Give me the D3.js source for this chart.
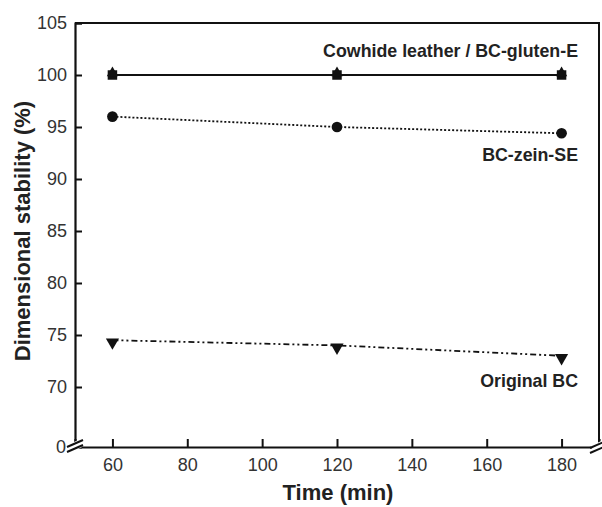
<!DOCTYPE html>
<html>
<head>
<meta charset="utf-8">
<script src="https://cdn.jsdelivr.net/npm/d3@7"></script>
<style>
  html, body { margin: 0; padding: 0; background: #fff; }
  svg { display: block; font-family: "Liberation Sans", Arial, sans-serif; }
</style>
</head>
<body>
<svg id="chart" width="602" height="507"></svg>
<script>
// Time points (min)
const times = [60, 120, 180];

// Dimensional stability (%) per sample
const cowhide = [100, 100, 100];
const glutenE = [100, 100, 100];
const zeinSE = [96, 95, 94.4];
const originalBC = [74.5, 74, 73];

// Axis ticks
const xTicks = [60, 80, 100, 120, 140, 160, 180];
const yTicks = [0, 70, 75, 80, 85, 90, 95, 100, 105];

const svg = d3.select("#chart");
const plotL = 75, plotR = 599, plotT = 23, plotB = 447;

const x = d3.scaleLinear().domain([50, 190]).range([plotL, plotR]);
// broken y axis: 0 sits below a compressed gap, 70–105 is linear
const y = d3.scaleLinear().domain([0, 70, 105]).range([plotB, 387, plotT]);

const ink = "#111";
const textCol = "#333";

// frame (top and right)
svg.append("path")
  .attr("d", `M${plotL},${plotT}H${plotR}V${plotB}`)
  .attr("fill", "none").attr("stroke", ink).attr("stroke-width", 2);

// y axis
const yAxis = svg.append("g").attr("transform", `translate(${plotL},0)`)
  .call(d3.axisLeft(y).tickValues(yTicks).tickSize(-7).tickPadding(8).tickFormat(d3.format("d")));
yAxis.select(".domain").attr("stroke", ink).attr("stroke-width", 2.2);
yAxis.selectAll(".tick line").attr("stroke", ink).attr("stroke-width", 2);
yAxis.selectAll(".tick text").attr("fill", textCol).style("font-size", "18px");
yAxis.selectAll(".tick").filter(d => d === 0).select("line").remove();
yAxis.selectAll(".tick").filter(d => d === 0).select("text").attr("x", -9);

// x axis
const xAxis = svg.append("g").attr("transform", `translate(0,${plotB})`)
  .call(d3.axisBottom(x).tickValues(xTicks).tickSize(-8).tickPadding(11).tickFormat(d3.format("d")));
xAxis.select(".domain").attr("stroke", ink).attr("stroke-width", 2.2);
xAxis.selectAll(".tick line").attr("stroke", ink).attr("stroke-width", 2);
xAxis.selectAll(".tick text").attr("fill", textCol).style("font-size", "18px");

// axis break marks
function breakMark(cx, cy) {
  const g = svg.append("g");
  g.append("rect").attr("x", cx - 6).attr("y", cy - 4).attr("width", 12).attr("height", 8).attr("fill", "#fff")
    .attr("transform", `rotate(-25,${cx},${cy})`);
  [-2.5, 2.5].forEach(o => {
    g.append("line")
      .attr("x1", cx - 8).attr("y1", cy + o + 3.5)
      .attr("x2", cx + 8).attr("y2", cy + o - 3.5)
      .attr("stroke", ink).attr("stroke-width", 2);
  });
}
breakMark(plotL, plotB - 1);
breakMark(plotR - 1, plotB);

// series lines
const line = d3.line().x((d, i) => x(times[i])).y(d => y(d));
function drawLine(vals, dash, w) {
  svg.append("path").datum(vals).attr("d", line)
    .attr("fill", "none").attr("stroke", ink).attr("stroke-width", w)
    .attr("stroke-dasharray", dash);
}
drawLine(cowhide, null, 2);
drawLine(zeinSE, "2,2", 1.8);
drawLine(originalBC, "6,3,2,3,2,3", 1.8);

// markers
function drawMarkers(vals, type, size) {
  svg.append("g").selectAll("path").data(vals).join("path")
    .attr("transform", (d, i) => `translate(${x(times[i])},${y(d)})`)
    .attr("d", d3.symbol().type(type).size(size))
    .attr("fill", ink);
}
drawMarkers(cowhide, d3.symbolSquare, 90);
drawMarkers(glutenE.map(v => v + 0.2), d3.symbolTriangle, 55);
drawMarkers(zeinSE, d3.symbolCircle, 90);
// downward triangles
svg.append("g").selectAll("path").data(originalBC).join("path")
  .attr("transform", (d, i) => `translate(${x(times[i])},${y(d) + 2}) rotate(180)`)
  .attr("d", d3.symbol().type(d3.symbolTriangle).size(75))
  .attr("fill", ink);

// series labels
const labels = [
  { text: "Cowhide leather / BC-gluten-E", yv: 100, dy: -18 },
  { text: "BC-zein-SE", yv: zeinSE[2], dy: 28 },
  { text: "Original BC", yv: originalBC[2], dy: 31 }
];
svg.append("g").selectAll("text").data(labels).join("text")
  .attr("x", 578).attr("y", d => y(d.yv) + d.dy)
  .attr("text-anchor", "end")
  .attr("fill", "#222").style("font-size", "17.8px").style("font-weight", "bold")
  .text(d => d.text);

// axis titles
svg.append("text")
  .attr("transform", `translate(30,231) rotate(-90)`)
  .attr("text-anchor", "middle").attr("fill", "#222")
  .style("font-size", "22px").style("font-weight", "bold")
  .text("Dimensional stability (%)");
svg.append("text")
  .attr("x", 338).attr("y", 500)
  .attr("text-anchor", "middle").attr("fill", "#222")
  .style("font-size", "22px").style("font-weight", "bold")
  .text("Time (min)");
</script>
</body>
</html>
